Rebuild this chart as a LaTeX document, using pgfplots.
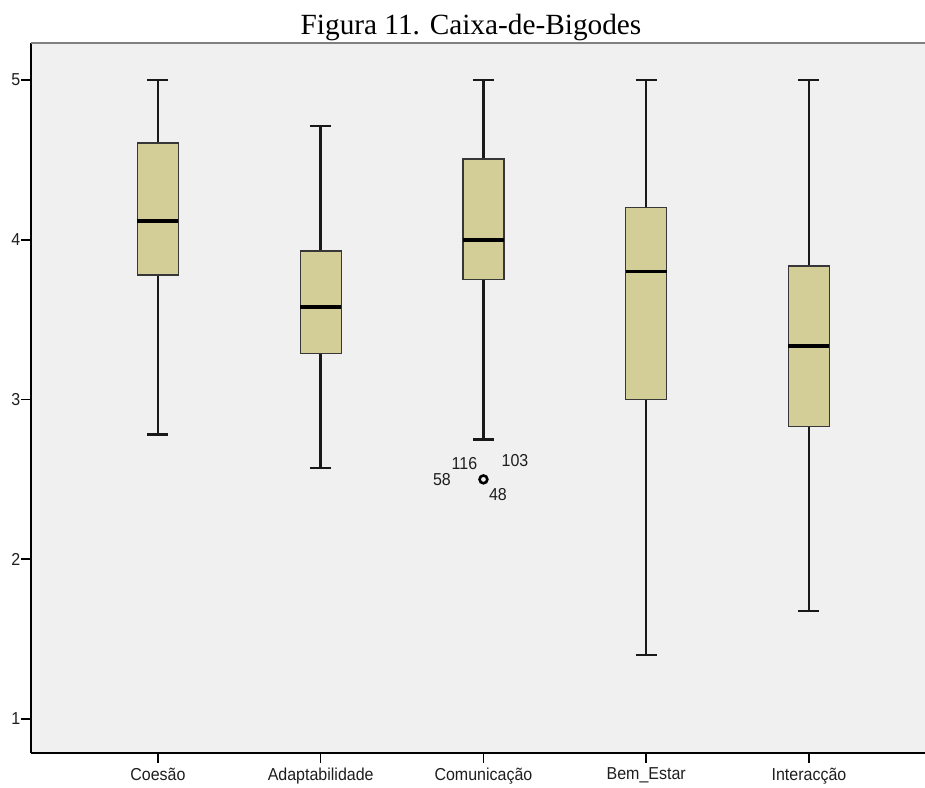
\documentclass[border=0pt]{standalone}
\usepackage{pgfplots}
\pgfplotsset{compat=1.18}
\usepgfplotslibrary{statistics}
\usepackage{fontspec}
\setmainfont{Liberation Serif}
\newfontfamily\arial{Liberation Sans}
\definecolor{panel}{RGB}{240,240,240}
\definecolor{boxfill}{RGB}{211,206,152}
\definecolor{boxedge}{RGB}{55,55,55}
\definecolor{topedge}{RGB}{128,128,128}
\definecolor{labtext}{RGB}{30,30,30}
\newcommand\lab[1]{\scalebox{1}[1.08]{#1}}
\newcommand\lfont{\arial\fontsize{16}{18}\selectfont\color{labtext}}

\begin{document}
\begin{tikzpicture}[x=1pt,y=1pt]
\useasboundingbox (0,0) rectangle (925,787);
\node[anchor=base,font=\fontsize{29.3}{32}\selectfont] at (471,752) {Figura 11. Caixa-de-Bigodes};
\begin{axis}[
  at={(31pt,34pt)}, anchor=south west,
  scale only axis, width=894pt, height=710pt,
  xmin=-0.780, xmax=4.713, ymin=0.787, ymax=5.232,
  axis background/.style={fill=panel},
  axis x line*=bottom, axis y line*=left,
  axis line style={-, black, line width=2pt},
  tick align=outside, major tick length=9.5pt,
  tick style={black, line width=1.5pt},
  clip=false,
  xtick={0,1,2,3,4},
  xticklabels={\lab{Coesão},\lab{Adaptabilidade},\lab{Comunicação},\lab{Bem\_Estar},\lab{Interacção}},
  ytick={1,2,3,4,5},
  yticklabels={\lab{1},\lab{2},\lab{3},\lab{4},\lab{5}},
  tick label style={font=\lfont},
  xticklabel style={inner sep=0pt, yshift=-5pt},
  yticklabel style={inner sep=1pt},
  boxplot/draw direction=y,
  boxplot/every box/.style={draw=boxedge, fill=boxfill, line width=1.3pt},
  boxplot/every median/.style={draw=black, line width=3.5pt},
  boxplot/every whisker/.style={draw=black!90, line width=2.5pt},
]
% grey top edge of the panel
\draw[topedge, line width=2pt] (rel axis cs:0,1) -- (rel axis cs:1,1);

\addplot[boxplot prepared={draw position=0, lower whisker=2.78, lower quartile=3.78,
  median=4.117, upper quartile=4.606, upper whisker=5, box extend=0.252, whisker extend=0.129}]
  coordinates {};
\addplot[boxplot prepared={draw position=1, lower whisker=2.57, lower quartile=3.29,
  median=3.58, upper quartile=3.93, upper whisker=4.712, box extend=0.252, whisker extend=0.129}]
  coordinates {};
\addplot[boxplot prepared={draw position=2, lower whisker=2.75, lower quartile=3.75,
  median=4.0, upper quartile=4.505, upper whisker=5, box extend=0.252, whisker extend=0.129},
  mark=o, mark size=3.9pt, mark options={draw=black, line width=2.6pt}]
  table[row sep=\\, y index=0] {data\\ 2.5\\};
\addplot[boxplot prepared={draw position=3, lower whisker=1.40, lower quartile=3.0,
  median=3.80, upper quartile=4.2, upper whisker=5, box extend=0.252, whisker extend=0.129}]
  coordinates {};
\addplot[boxplot prepared={draw position=4, lower whisker=1.675, lower quartile=2.83,
  median=3.335, upper quartile=3.835, upper whisker=5, box extend=0.252, whisker extend=0.129}]
  coordinates {};

% case numbers of the outlying value
\node[font=\lfont] at (axis cs:1.883,2.599) {\lab{116}};
\node[font=\lfont] at (axis cs:2.194,2.618) {\lab{103}};
\node[font=\lfont] at (axis cs:1.745,2.502) {\lab{58}};
\node[font=\lfont] at (axis cs:2.089,2.402) {\lab{48}};
\end{axis}
\end{tikzpicture}
\end{document}
